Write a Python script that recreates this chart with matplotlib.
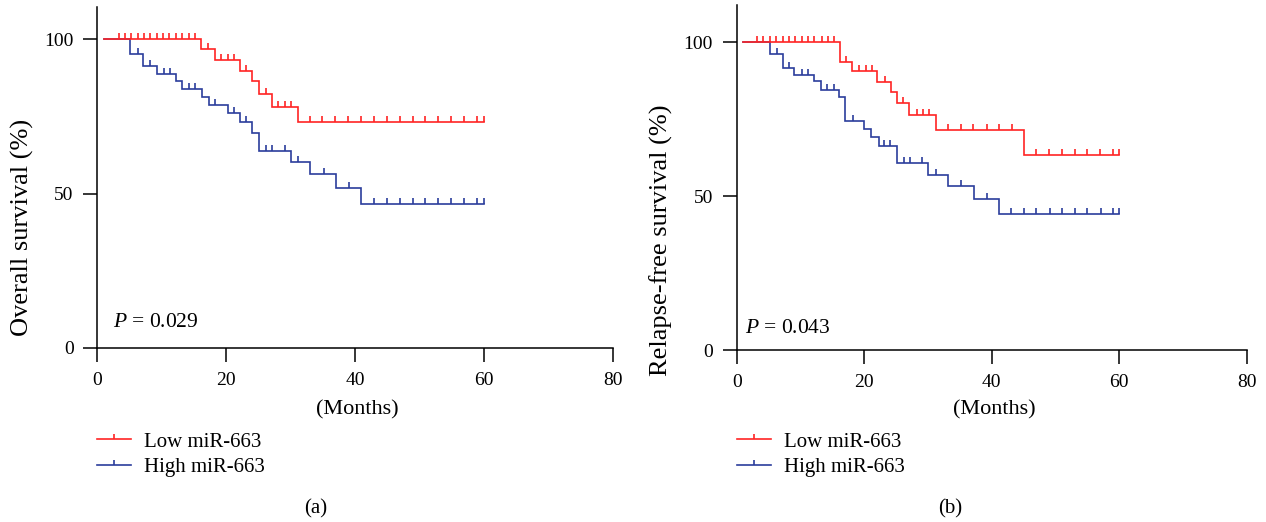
import matplotlib
matplotlib.use('Agg')
import matplotlib.pyplot as plt
import numpy as np
from matplotlib.path import Path
from matplotlib.lines import Line2D

plt.rcParams['font.family'] = ['Liberation Serif', 'DejaVu Serif']
plt.rcParams['mathtext.fontset'] = 'custom'
plt.rcParams['mathtext.rm'] = 'Liberation Serif'
plt.rcParams['mathtext.it'] = 'Liberation Serif:italic'

RED = '#ff2424'
BLUE = '#2b3d9c'

start_time = 1.0
end_time = 60.0

# ---- (a) Overall survival ----
os_low_event_t = [16.1, 18.2, 22.1, 24.05, 25.1, 27.06, 31.1]
os_low_surv = [96.7, 93.2, 89.7, 86.3, 82.3, 78.0, 73.1]
os_low_cens = [3.3, 4.3, 5.2, 6.3, 7.3, 8.2, 9.2, 10.2, 11.2, 12.2, 13.2, 14.2, 15.2,
               17.2, 19.2, 20.2, 21.2, 23.1, 26.2, 28.1, 29.1, 30.1,
               33.0, 34.9, 36.9, 38.9, 40.9, 42.9, 44.9, 46.9, 48.9, 50.9, 52.9,
               54.9, 56.9, 58.9, 60.0]

os_high_event_t = [5.07, 7.09, 9.26, 12.26, 13.14, 16.25, 17.3, 20.2, 22.2, 24.0,
                   25.1, 30.0, 33.0, 37.1, 40.97]
os_high_surv = [95.2, 91.4, 88.7, 86.5, 83.8, 81.3, 78.7, 75.9, 73.1, 69.6,
                63.8, 60.3, 56.3, 51.8, 46.6]
os_high_cens = [6.3, 8.2, 10.3, 11.3, 14.2, 15.2, 18.2, 21.2, 23.1, 26.1, 27.1, 29.1,
                31.1, 35.1, 39.1, 42.9, 44.9, 46.9, 48.9, 50.9, 52.9, 54.9, 56.9,
                58.9, 60.0]

# ---- (b) Relapse-free survival ----
rfs_low_event_t = [16.2, 18.1, 22.0, 24.2, 25.2, 27.0, 31.2, 45.1]
rfs_low_surv = [93.7, 90.8, 87.2, 83.8, 80.3, 76.4, 71.6, 63.4]
rfs_low_cens = [3.2, 4.2, 5.2, 6.2, 7.2, 8.2, 9.2, 10.2, 11.2, 12.2, 13.3, 14.3, 15.3,
                17.1, 19.2, 20.2, 21.2, 23.2, 26.1, 28.2, 29.2, 30.2,
                33.1, 35.1, 37.1, 39.2, 41.2, 43.2, 47.0, 49.0, 51.0, 53.0, 55.0,
                56.9, 59.0, 60.0]

rfs_high_event_t = [5.2, 7.3, 9.0, 12.2, 13.2, 16.1, 17.0, 20.0, 21.1, 22.3, 25.1,
                    30.0, 33.1, 37.2, 41.1]
rfs_high_surv = [96.2, 91.7, 89.4, 87.3, 84.5, 82.2, 74.4, 71.9, 69.1, 66.2, 60.9,
                 56.9, 53.2, 49.2, 44.2]
rfs_high_cens = [6.3, 8.2, 10.2, 11.2, 14.2, 15.2, 18.2, 23.1, 24.1, 26.2, 27.2, 29.0,
                 31.2, 35.2, 39.2, 43.0, 45.0, 47.0, 49.1, 51.0, 53.0, 55.0, 57.1,
                 59.0, 60.0]

x_ticks = [0, 20, 40, 60, 80]
y_ticks = [0, 50, 100]
group_labels = ['Low miR-663', 'High miR-663']

W, H = 1266, 522
fig = plt.figure(figsize=(W / 100, H / 100), dpi=100)

tick_path = Path([(0, 0), (0, 1)], [Path.MOVETO, Path.LINETO])
LW = 1.2
MS = 9


def km(ax, ev_t, surv, cens, color, z):
    t = [start_time] + list(ev_t) + [end_time]
    s = [100.0] + list(surv) + [surv[-1]]
    ax.step(t, s, where='post', color=color, lw=LW, zorder=z, solid_joinstyle='miter')
    idx = np.searchsorted(np.array(t), np.array(cens), side='right') - 1
    yc = np.array(s)[idx]
    ax.plot(cens, yc, linestyle='none', marker=tick_path, markersize=MS,
            markeredgecolor=color, markeredgewidth=LW, fillstyle='none', zorder=z)


def style(ax, ytop):
    ax.set_xlim(0, 80)
    ax.set_ylim(0, ytop)
    ax.set_xticks(x_ticks)
    ax.set_yticks(y_ticks)
    for sp in ['top', 'right']:
        ax.spines[sp].set_visible(False)
    for sp in ['left', 'bottom']:
        ax.spines[sp].set_linewidth(1.1)
    ax.tick_params(direction='out', length=10, width=1.1, labelsize=14, pad=7)
    ax.patch.set_alpha(0)


ax1 = fig.add_axes([97.3 / W, (H - 348) / H, 515.7 / W, 341 / H])
style(ax1, 341 / 3.09)
km(ax1, os_high_event_t, os_high_surv, os_high_cens, BLUE, 2)
km(ax1, os_low_event_t, os_low_surv, os_low_cens, RED, 3)
ax1.text(2.4, 8.4, r'$P$ = 0.029', fontsize=15.5, ha='left', va='center')

ax2 = fig.add_axes([736.7 / W, (H - 350.3) / H, 510.1 / W, 345.3 / H])
style(ax2, 345.3 / 3.08)
km(ax2, rfs_high_event_t, rfs_high_surv, rfs_high_cens, BLUE, 2)
km(ax2, rfs_low_event_t, rfs_low_surv, rfs_low_cens, RED, 3)
ax2.text(1.35, 7.2, r'$P$ = 0.043', fontsize=15.5, ha='left', va='center')

# axis labels
fig.text(357 / W, 1 - 410 / H, '(Months)', fontsize=16, ha='center', va='center')
fig.text(994 / W, 1 - 410 / H, '(Months)', fontsize=16, ha='center', va='center')
fig.text(22 / W, 1 - 227 / H, 'Overall survival (%)', fontsize=19, rotation=90,
         ha='center', va='center')
fig.text(661 / W, 1 - 240 / H, 'Relapse-free survival (%)', fontsize=19, rotation=90,
         ha='center', va='center')

# legends
for x0 in [97, 737]:
    handles = [Line2D([], [], color=RED, lw=LW, marker=tick_path, markersize=7,
                      markeredgecolor=RED, markeredgewidth=LW),
               Line2D([], [], color=BLUE, lw=LW, marker=tick_path, markersize=7,
                      markeredgecolor=BLUE, markeredgewidth=LW)]
    fig.legend(handles, group_labels, loc='upper left',
               bbox_to_anchor=(x0 / W, 1 - 432 / H), bbox_transform=fig.transFigure,
               frameon=False, fontsize=15, handlelength=1.65, handletextpad=0.6,
               labelspacing=0.3, borderpad=0, borderaxespad=0, numpoints=1)

# panel captions
fig.text(316 / W, 1 - 509 / H, '(a)', fontsize=15, ha='center', va='center')
fig.text(950 / W, 1 - 509 / H, '(b)', fontsize=15, ha='center', va='center')

fig.savefig('out.png', dpi=100)
